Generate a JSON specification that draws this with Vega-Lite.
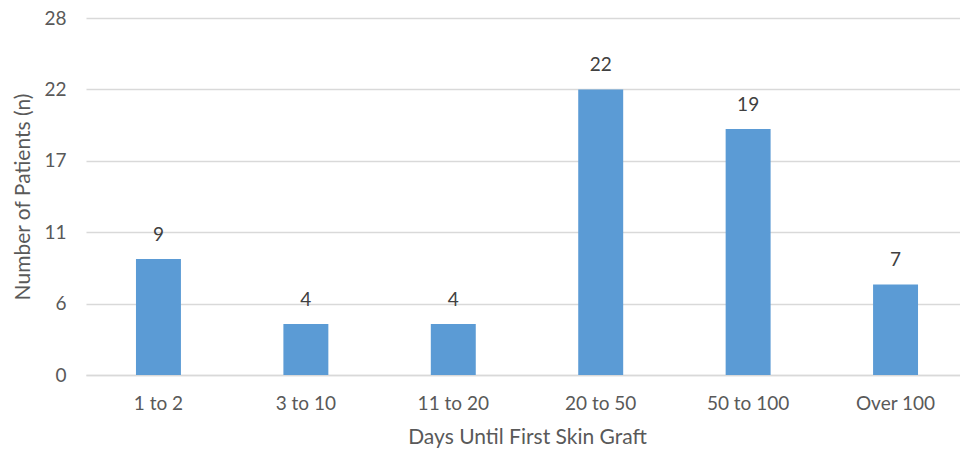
{
  "$schema": "https://vega.github.io/schema/vega-lite/v6.json",
  "autosize": "none",
  "width": 882,
  "height": 357,
  "padding": {"left": 86, "top": 18, "right": -8, "bottom": 74},
  "background": "white",
  "config": {
    "view": {"stroke": null},
    "font": "Lato",
    "axis": {"labelFont": "Lato", "titleFont": "Lato", "labelColor": "#595959", "titleColor": "#595959", "titleFontWeight": "normal"}
  },
  "data": {
    "values": [
      {"days": "1 to 2", "patients": 9.1, "label": 9},
      {"days": "3 to 10", "patients": 4.0, "label": 4},
      {"days": "11 to 20", "patients": 4.0, "label": 4},
      {"days": "20 to 50", "patients": 22.4, "label": 22},
      {"days": "50 to 100", "patients": 19.3, "label": 19},
      {"days": "Over 100", "patients": 7.1, "label": 7}
    ]
  },
  "encoding": {
    "x": {
      "field": "days", "type": "nominal", "sort": null,
      "scale": {"paddingInner": 0.695, "paddingOuter": 0.339},
      "axis": {"title": "Days Until First Skin Graft", "labelAngle": 0, "labelFontSize": 19, "titleFontSize": 21, "labelPadding": 19, "titlePadding": 13, "ticks": false, "domainColor": "#d9d9d9", "domainWidth": 1.5}
    },
    "y": {
      "field": "patients", "type": "quantitative",
      "scale": {"domain": [0, 28], "nice": false},
      "axis": {"title": "Number of Patients (n)", "values": [0, 5.6, 11.2, 16.8, 22.4, 28], "format": ".0f", "labelFontSize": 19, "titleFontSize": 21, "labelPadding": 20, "titlePadding": 10, "ticks": false, "domain": false, "gridColor": "#d9d9d9", "gridWidth": 1.5}
    }
  },
  "layer": [
    {"mark": {"type": "bar", "color": "#5b9bd5"}},
    {"mark": {"type": "text", "baseline": "alphabetic", "dy": -18, "fontSize": 19, "color": "#404040"}, "encoding": {"text": {"field": "label", "type": "quantitative"}}}
  ]
}
